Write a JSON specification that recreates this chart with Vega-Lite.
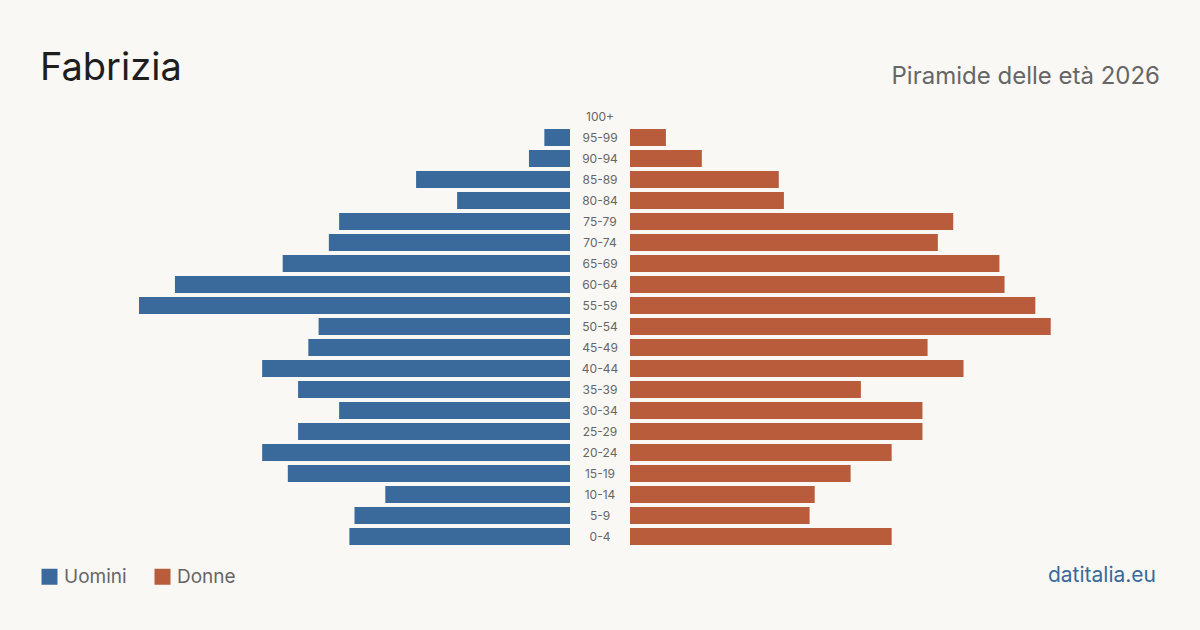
{
  "$schema": "https://vega.github.io/schema/vega-lite/v6.json",
  "background": "#f9f8f4",
  "padding": {"left": 40, "right": 40, "top": 50, "bottom": 43},
  "autosize": {"type": "pad"},
  "title": {"text": "datitalia.eu", "orient": "bottom", "anchor": "end", "fontSize": 21, "fontWeight": "normal", "color": "#3a6a9c", "font": "Inter", "baseline": "alphabetic", "offset": -5, "dx": -4},
  "data": {"values": [
    {"age": "100+", "uomini": 0, "donne": 0},
    {"age": "95-99", "uomini": 5, "donne": 7},
    {"age": "90-94", "uomini": 8, "donne": 14},
    {"age": "85-89", "uomini": 30, "donne": 29},
    {"age": "80-84", "uomini": 22, "donne": 30},
    {"age": "75-79", "uomini": 45, "donne": 63},
    {"age": "70-74", "uomini": 47, "donne": 60},
    {"age": "65-69", "uomini": 56, "donne": 72},
    {"age": "60-64", "uomini": 77, "donne": 73},
    {"age": "55-59", "uomini": 84, "donne": 79},
    {"age": "50-54", "uomini": 49, "donne": 82},
    {"age": "45-49", "uomini": 51, "donne": 58},
    {"age": "40-44", "uomini": 60, "donne": 65},
    {"age": "35-39", "uomini": 53, "donne": 45},
    {"age": "30-34", "uomini": 45, "donne": 57},
    {"age": "25-29", "uomini": 53, "donne": 57},
    {"age": "20-24", "uomini": 60, "donne": 51},
    {"age": "15-19", "uomini": 55, "donne": 43},
    {"age": "10-14", "uomini": 36, "donne": 36},
    {"age": "5-9", "uomini": 42, "donne": 35},
    {"age": "0-4", "uomini": 43, "donne": 51}
  ]},
  "spacing": 0,
  "hconcat": [
    {
      "width": 530,
      "height": 441,
      "title": {"text": "Fabrizia", "anchor": "start", "fontSize": 38, "fontWeight": "normal", "color": "#1e1e1e", "font": "Inter", "baseline": "alphabetic", "offset": -12},
      "mark": {"type": "bar"},
      "encoding": {
        "y": {"field": "age", "type": "nominal", "sort": null, "axis": null, "scale": {"paddingInner": 0.19, "paddingOuter": 0.095}},
        "x": {"field": "uomini", "type": "quantitative", "axis": null, "scale": {"domain": [0, 103.3], "reverse": true, "nice": false}},
        "color": {"datum": "Uomini", "type": "nominal", "scale": {"domain": ["Uomini", "Donne"], "range": ["#3a6a9c", "#b95c3b"]},
          "legend": {"orient": "none", "legendX": 0, "legendY": 461, "direction": "horizontal", "title": null, "symbolType": "square", "symbolSize": 256, "symbolStrokeWidth": 0, "symbolOpacity": 1, "labelFontSize": 19, "labelColor": "#666666", "labelFont": "Inter", "labelOffset": 5, "columnPadding": 26}}
      }
    },
    {
      "width": 60,
      "height": 441,
      "mark": {"type": "text", "fontSize": 12, "color": "#666666", "font": "Inter", "align": "center", "baseline": "middle"},
      "encoding": {
        "y": {"field": "age", "type": "nominal", "sort": null, "axis": null, "scale": {"paddingInner": 0.19, "paddingOuter": 0.095}},
        "text": {"field": "age"}
      }
    },
    {
      "width": 530,
      "height": 441,
      "title": {"text": "Piramide delle età 2026", "anchor": "end", "fontSize": 24, "fontWeight": "normal", "color": "#666666", "font": "Inter", "baseline": "alphabetic", "offset": -2},
      "mark": {"type": "bar"},
      "encoding": {
        "y": {"field": "age", "type": "nominal", "sort": null, "axis": null, "scale": {"paddingInner": 0.19, "paddingOuter": 0.095}},
        "x": {"field": "donne", "type": "quantitative", "axis": null, "scale": {"domain": [0, 103.3], "nice": false}},
        "color": {"datum": "Donne", "type": "nominal"}
      }
    }
  ],
  "resolve": {"scale": {"y": "independent"}},
  "config": {"view": {"stroke": null}}
}
